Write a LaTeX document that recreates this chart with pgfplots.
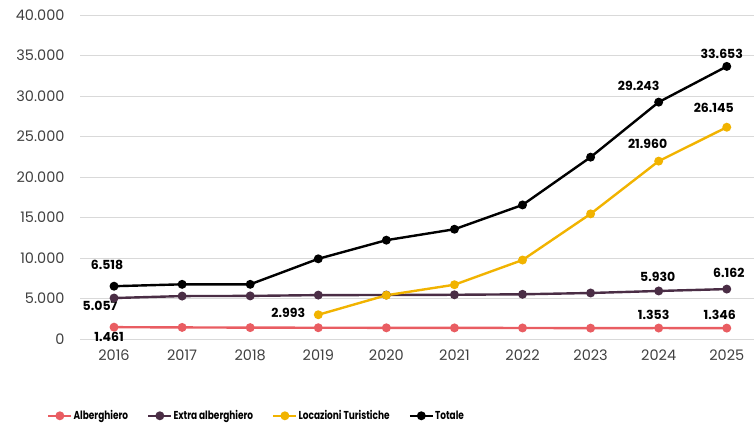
\documentclass[border=0pt]{standalone}
\usepackage{fontspec}
\setmainfont{Poppins}
\newfontfamily\legfont[FakeStretch=0.78]{Poppins}
\usepackage{pgfplots}
\pgfplotsset{compat=1.18}
\definecolor{alb}{HTML}{E95D62}
\definecolor{ext}{HTML}{4A2D45}
\definecolor{loc}{HTML}{F1B300}
\definecolor{tot}{HTML}{000000}
\definecolor{gridc}{HTML}{D9D9D9}
\definecolor{tickc}{HTML}{404040}
\begin{document}
\begin{tikzpicture}
\path[use as bounding box] (-80pt,-86pt) rectangle (674pt,339pt);
\begin{axis}[
  at={(0pt,0pt)}, anchor=south west,
  scale only axis, width=674pt, height=324pt,
  xmin=-0.5, xmax=9.4, ymin=0, ymax=40000,
  xtick={0,...,9}, xticklabels={2016,2017,2018,2019,2020,2021,2022,2023,2024,2025},
  ytick={0,5000,...,40000},
  ymajorgrids, grid style={gridc, line width=0.9pt},
  axis line style={draw=none},
  major tick length=0pt,
  tick label style={font=\fontsize{14.5}{16}\selectfont, text=tickc},
  yticklabel style={xshift=-12pt},
  xticklabel style={yshift=-7pt},
  /pgf/number format/.cd, 1000 sep={.}, assume math mode=true,
  /pgfplots/.cd,
  scaled y ticks=false,
  clip=false,
  every axis plot/.append style={line width=2.4pt, mark=*, mark size=3.2pt},
  legend columns=4,
  legend style={draw=none, fill=none, inner sep=0pt, at={(axis description cs:-0.049,-0.237)}, anchor=west,
    font=\legfont\bfseries\fontsize{11.5}{13}\selectfont,
    nodes={inner xsep=1pt},
    /tikz/every even column/.append style={column sep=18pt}},
  legend image code/.code={\draw[mark repeat=2,mark phase=2] plot coordinates {(0pt,0pt)(11.5pt,0pt)(23pt,0pt)};},
]
\addplot[color=alb] coordinates {(0,1461)(1,1430)(2,1405)(3,1390)(4,1380)(5,1370)(6,1362)(7,1340)(8,1353)(9,1346)};
\addlegendentry{Alberghiero}
\addplot[color=ext] coordinates {(0,5057)(1,5300)(2,5320)(3,5420)(4,5430)(5,5460)(6,5520)(7,5680)(8,5930)(9,6162)};
\addlegendentry{Extra alberghiero}
\addplot[color=loc] coordinates {(3,2993)(4,5400)(5,6700)(6,9750)(7,15450)(8,21960)(9,26145)};
\addlegendentry{Locazioni Turistiche}
\addplot[color=tot] coordinates {(0,6518)(1,6750)(2,6750)(3,9900)(4,12200)(5,13550)(6,16550)(7,22450)(8,29243)(9,33653)};
\addlegendentry{Totale}
\begin{scope}[every node/.style={font=\bfseries\fontsize{12.5}{14}\selectfont, inner sep=0pt}]
\node at ([shift={(-7pt,21pt)}]axis cs:0,6518) {6.518};
\node at ([shift={(-14pt,-8pt)}]axis cs:0,5057) {5.057};
\node at ([shift={(-5pt,-10pt)}]axis cs:0,1461) {1.461};
\node at ([shift={(-30pt,2pt)}]axis cs:3,2993) {2.993};
\node at ([shift={(-11pt,17pt)}]axis cs:8,21960) {21.960};
\node at ([shift={(-13pt,19pt)}]axis cs:9,26145) {26.145};
\node at ([shift={(-20pt,16pt)}]axis cs:8,29243) {29.243};
\node at ([shift={(-5pt,13pt)}]axis cs:9,33653) {33.653};
\node at ([shift={(-1pt,14pt)}]axis cs:8,5930) {5.930};
\node at ([shift={(2pt,16pt)}]axis cs:9,6162) {6.162};
\node at ([shift={(-5pt,13pt)}]axis cs:8,1353) {1.353};
\node at ([shift={(-7pt,13pt)}]axis cs:9,1346) {1.346};
\end{scope}
\end{axis}
\end{tikzpicture}
\end{document}
